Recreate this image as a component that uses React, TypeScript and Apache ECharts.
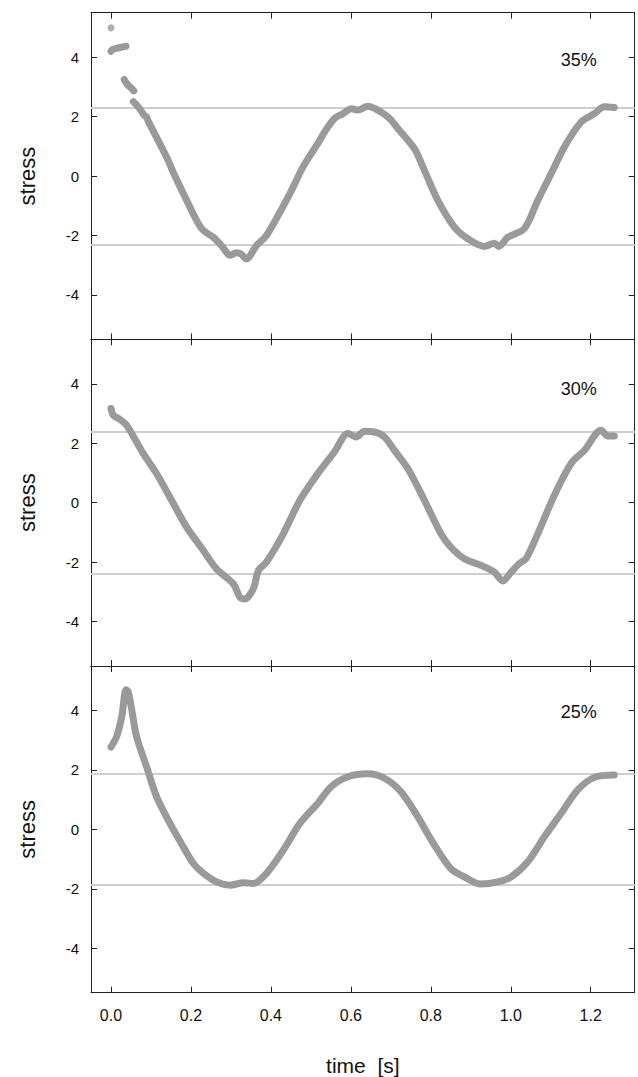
import React, { useEffect, useRef } from "react";
import * as echarts from "echarts";

// ---------- data ----------
const panelLabels = ["35%", "30%", "25%"];
const refLevels = [
  [2.3, -2.31],
  [2.38, -2.4],
  [1.87, -1.88],
];

const p1Dot = [[0, 4.99]];
const p1SegA = [
  [0, 4.2], [0.005, 4.27], [0.02, 4.32], [0.0375, 4.37],
];
const p1SegB = [
  [0.033, 3.25], [0.04, 3.1], [0.05, 2.97], [0.057, 2.87],
];
const p1Main = [
  [0.056, 2.5], [0.07, 2.3], [0.084, 2.03], [0.089, 1.99], [0.093, 1.85], [0.139, 0.64],
  [0.16, 0.0], [0.181, -0.59], [0.214, -1.49], [0.231, -1.83], [0.256, -2.06],
  [0.28, -2.4], [0.2975, -2.67], [0.314, -2.58], [0.325, -2.62], [0.339, -2.79],
  [0.364, -2.34], [0.389, -2.0], [0.4475, -0.59], [0.48, 0.3], [0.5175, 1.1],
  [0.535, 1.5], [0.559, 1.94], [0.58, 2.1], [0.601, 2.27], [0.6175, 2.22],
  [0.6425, 2.35], [0.67, 2.2], [0.697, 1.94], [0.7175, 1.6], [0.759, 0.92],
  [0.784, 0.19], [0.8175, -0.82], [0.859, -1.72], [0.8925, -2.11], [0.934, -2.37],
  [0.959, -2.26], [0.97, -2.37], [0.9925, -2.06], [1.034, -1.77], [1.0675, -0.82],
  [1.101, 0.08], [1.134, 0.98], [1.176, 1.82], [1.209, 2.1], [1.234, 2.33],
  [1.259, 2.31],
];
const p2Main = [
  [0, 3.17], [0.006, 2.94], [0.0225, 2.8], [0.039, 2.61], [0.081, 1.65],
  [0.114, 0.98], [0.156, -0.03], [0.189, -0.82], [0.231, -1.61], [0.264, -2.23],
  [0.306, -2.73], [0.3225, -3.18], [0.335, -3.24], [0.356, -2.9], [0.369, -2.28],
  [0.389, -2.0], [0.431, -1.05], [0.4725, 0.08], [0.5175, 0.98], [0.559, 1.71],
  [0.5925, 2.33], [0.613, 2.21], [0.634, 2.4], [0.659, 2.38], [0.684, 2.21],
  [0.709, 1.76], [0.7425, 1.15], [0.784, 0.08], [0.8255, -1.05], [0.85, -1.5],
  [0.884, -1.89], [0.925, -2.11], [0.959, -2.34], [0.98, -2.64], [1.001, -2.34],
  [1.022, -2.04], [1.038, -1.89], [1.0675, -1.05], [1.109, 0.25], [1.151, 1.32],
  [1.184, 1.76], [1.226, 2.44], [1.2425, 2.24], [1.259, 2.24],
];
const p3Main = [
  [0, 2.77], [0.014, 3.12], [0.027, 3.8], [0.0375, 4.7], [0.043, 4.64],
  [0.052, 4.02], [0.064, 3.12], [0.089, 2.11], [0.114, 1.1], [0.1475, 0.2],
  [0.181, -0.59], [0.206, -1.15], [0.231, -1.48], [0.264, -1.77], [0.2975, -1.88],
  [0.331, -1.8], [0.356, -1.82], [0.389, -1.48], [0.431, -0.7], [0.4725, 0.2],
  [0.5175, 0.88], [0.551, 1.44], [0.5925, 1.77], [0.6425, 1.87], [0.684, 1.72],
  [0.725, 1.27], [0.7675, 0.42], [0.809, -0.53], [0.85, -1.32], [0.884, -1.6],
  [0.925, -1.84], [0.9675, -1.77], [1.001, -1.6], [1.0425, -1.09], [1.084, -0.25],
  [1.126, 0.54], [1.1675, 1.33], [1.209, 1.75], [1.259, 1.83],
];

const xMin = -0.05;
const xMax = 1.31;
const yMin = -5.5;
const yMax = 5.5;

// ---------- styling ----------
const FONT = '"Liberation Sans", Arial, sans-serif';
const AXIS = "#222";
const CURVE = "#9a9a9a";
const REF = "#cfcfcf";
const gridTops = [12.7, 339.3, 666];
const gridH = 326.7;

export default function App() {
  const ref = useRef<HTMLDivElement>(null);
  useEffect(() => {
    if (!ref.current) return;
    const chart = echarts.init(ref.current, undefined, { renderer: "svg" });

    const grids = gridTops.map((t) => ({ left: 91, top: t, width: 543.7, height: gridH }));
    const xAxes: any[] = [];
    const yAxes: any[] = [];
    const tick = { show: true, inside: true, length: 6, lineStyle: { color: AXIS, width: 1 } };
    const axLine = { show: true, onZero: false, lineStyle: { color: AXIS, width: 1 } };
    gridTops.forEach((_, i) => {
      const last = i === 2;
      xAxes.push({
        type: "value", gridIndex: i, position: "bottom", min: xMin, max: xMax, splitNumber: 7,
        axisLine: axLine, axisTick: tick, splitLine: { show: false },
        axisLabel: {
          show: last, fontSize: 16, color: "#111", fontFamily: FONT, margin: 15,
          showMinLabel: false, showMaxLabel: false,
          formatter: (v: number) => v.toFixed(1),
        },
        name: last ? "time  [s]" : "", nameLocation: "middle", nameGap: 62,
        nameTextStyle: { fontSize: 21, color: "#111", fontFamily: FONT },
      });
      xAxes.push({
        type: "value", gridIndex: i, position: "top", min: xMin, max: xMax, splitNumber: 7,
        axisLine: axLine, axisTick: tick, splitLine: { show: false }, axisLabel: { show: false },
      });
      yAxes.push({
        type: "value", gridIndex: i, position: "left", min: yMin, max: yMax, splitNumber: 5,
        axisLine: axLine, axisTick: tick, splitLine: { show: false },
        axisLabel: {
          fontSize: 15, color: "#111", fontFamily: FONT, margin: 12,
          showMinLabel: false, showMaxLabel: false,
        },
        name: "stress", nameLocation: "middle", nameGap: 53,
        nameTextStyle: { fontSize: 22, color: "#111", fontFamily: FONT },
      });
      yAxes.push({
        type: "value", gridIndex: i, position: "right", min: yMin, max: yMax, splitNumber: 5,
        axisLine: axLine, axisTick: tick, splitLine: { show: false }, axisLabel: { show: false },
      });
    });

    const lineSeries = (data: number[][], i: number, withRef: boolean) => ({
      type: "line",
      xAxisIndex: i * 2,
      yAxisIndex: i * 2,
      data,
      showSymbol: false,
      symbol: "none",
      smooth: 0.3,
      z: 3,
      lineStyle: { color: CURVE, width: 7, cap: "round", join: "round" },
      markLine: withRef
        ? {
            silent: true,
            symbol: "none",
            z: 1,
            label: { show: false },
            lineStyle: { color: REF, width: 2, type: "solid" },
            data: refLevels[i].map((v) => ({ yAxis: v })),
          }
        : undefined,
    });

    const series: any[] = [
      lineSeries(p1Main, 0, true),
      lineSeries(p1SegA, 0, false),
      lineSeries(p1SegB, 0, false),
      {
        type: "scatter", xAxisIndex: 0, yAxisIndex: 0, data: p1Dot, symbolSize: 7,
        itemStyle: { color: CURVE }, z: 3,
      },
      lineSeries(p2Main, 1, true),
      lineSeries(p3Main, 2, true),
    ];

    const labelY = [60, 389.3, 711.7];
    const graphic = panelLabels.map((t, i) => ({
      type: "text",
      x: 578.7,
      y: labelY[i],
      style: {
        text: t, fontSize: 18, fontFamily: FONT, fill: "#111",
        align: "center", verticalAlign: "middle",
      },
    }));

    chart.setOption({
      animation: false,
      textStyle: { fontFamily: FONT },
      grid: grids,
      xAxis: xAxes,
      yAxis: yAxes,
      series,
      graphic,
    });
    return () => chart.dispose();
  }, []);

  return (
    <div
      ref={ref}
      style={{ position: "absolute", left: 0, top: 0, width: 638, height: 1077, background: "#fff" }}
    />
  );
}
